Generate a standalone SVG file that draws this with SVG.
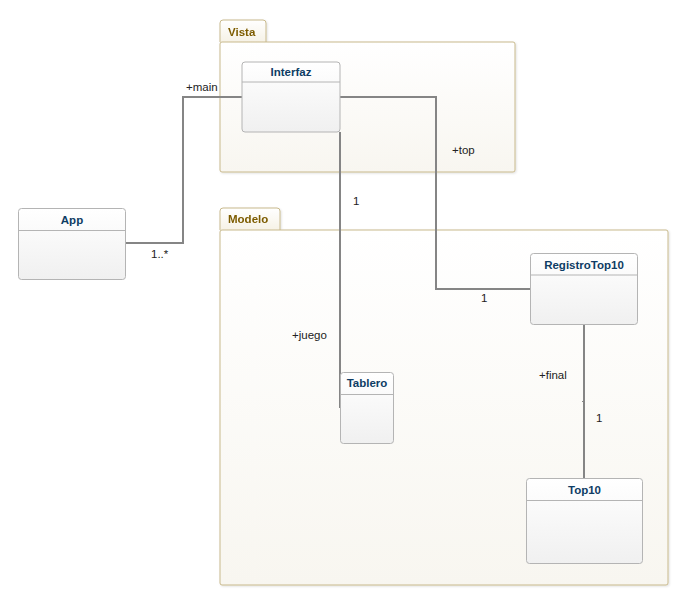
<svg xmlns="http://www.w3.org/2000/svg" width="691" height="612" viewBox="0 0 691 612">
<defs>
<linearGradient id="pkgGrad" x1="0" y1="0" x2="0" y2="1">
<stop offset="0" stop-color="#ffffff"/>
<stop offset="1" stop-color="#f8f6f0"/>
</linearGradient>
<linearGradient id="tabGrad" x1="0" y1="0" x2="0" y2="1">
<stop offset="0" stop-color="#ffffff"/>
<stop offset="1" stop-color="#f6f2e6"/>
</linearGradient>
<linearGradient id="clsGrad" x1="0" y1="0" x2="0" y2="1">
<stop offset="0" stop-color="#ffffff"/>
<stop offset="1" stop-color="#f0f0f0"/>
</linearGradient>
<filter id="shadow" x="-5%" y="-5%" width="110%" height="110%">
<feDropShadow dx="1" dy="1" stdDeviation="1" flood-color="#000" flood-opacity="0.12"/>
</filter>
</defs>
<style>
.pkg{fill:url(#pkgGrad);stroke:#c8b98c;stroke-width:1;}
.tab{fill:url(#tabGrad);stroke:#c8b98c;stroke-width:1;}
.pkgname{font-family:"Liberation Sans",Arial,sans-serif;font-size:11.5px;font-weight:bold;fill:#7d5c00;}
.cls{fill:url(#clsGrad);stroke:#b4b4b4;stroke-width:1;}
.div{stroke:#b4b4b4;stroke-width:1;}
.clsname{font-family:"Liberation Sans",Arial,sans-serif;font-size:11.5px;font-weight:bold;fill:#0e3c64;text-anchor:middle;}
.conn{fill:none;stroke:#858585;stroke-width:2;}
.lbl{font-family:"Liberation Sans",Arial,sans-serif;font-size:11.5px;fill:#222;}
</style>

<g id="pkg-Vista" filter="url(#shadow)">
<path class="tab" d="M220,42 V23 a3,3 0 0 1 3,-3 H263 a3,3 0 0 1 3,3 V42"/>
<rect class="pkg" x="220" y="42" width="295" height="130" rx="2"/>
<text class="pkgname" x="228" y="36">Vista</text>
</g>

<g id="pkg-Modelo" filter="url(#shadow)">
<path class="tab" d="M220,230 V211 a3,3 0 0 1 3,-3 H277 a3,3 0 0 1 3,3 V230"/>
<rect class="pkg" x="220" y="230" width="448" height="355" rx="2"/>
<text class="pkgname" x="228" y="223">Modelo</text>
</g>

<g id="connectors">
<polyline class="conn" points="242,97 183,97 183,243 126,243"/>
<polyline class="conn" points="340,97 436,97 436,289 531,289"/>
<line class="conn" x1="340" y1="132" x2="340" y2="408"/>
<line class="conn" x1="584" y1="324" x2="584" y2="479"/>
<line x1="582" y1="401.5" x2="584" y2="401.5" stroke="#858585" stroke-width="1"/>
<text class="lbl" x="186" y="91">+main</text>
<text class="lbl" x="151" y="258">1..*</text>
<text class="lbl" x="452" y="154">+top</text>
<text class="lbl" x="481" y="302">1</text>
<text class="lbl" x="353" y="205">1</text>
<text class="lbl" x="292" y="339">+juego</text>
<text class="lbl" x="539" y="379">+final</text>
<text class="lbl" x="596" y="422">1</text>
</g>

<g id="cls-Interfaz">
<rect class="cls" x="242" y="62" width="98" height="70" rx="3"/>
<line class="div" x1="242" y1="82" x2="340" y2="82"/>
<text class="clsname" x="291" y="76">Interfaz</text>
</g>

<g id="cls-App">
<rect class="cls" x="18.5" y="208.5" width="107" height="71" rx="3"/>
<line class="div" x1="18.5" y1="230.5" x2="125.5" y2="230.5"/>
<text class="clsname" x="72" y="224">App</text>
</g>

<g id="cls-RegistroTop10">
<rect class="cls" x="530.5" y="253.5" width="107" height="71" rx="3"/>
<line class="div" x1="530.5" y1="275" x2="637.5" y2="275"/>
<text class="clsname" x="584" y="269">RegistroTop10</text>
</g>

<g id="cls-Tablero">
<rect class="cls" x="340.5" y="372.5" width="53" height="71" rx="3"/>
<line class="div" x1="340.5" y1="394.5" x2="393.5" y2="394.5"/>
<text class="clsname" x="367" y="387">Tablero</text>
</g>

<g id="cls-Top10">
<rect class="cls" x="526.5" y="478.5" width="116" height="85" rx="3"/>
<line class="div" x1="526.5" y1="500.5" x2="642.5" y2="500.5"/>
<text class="clsname" x="584.5" y="494">Top10</text>
</g>
</svg>
